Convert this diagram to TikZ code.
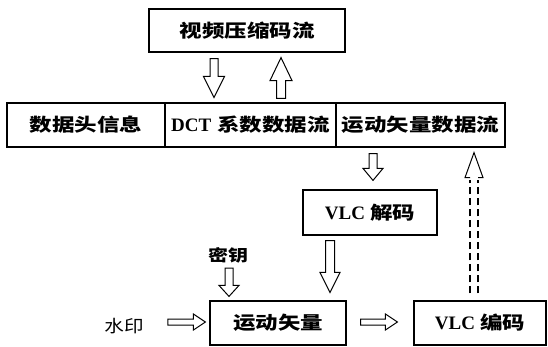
\documentclass[tikz,border=0pt]{standalone}
\usepackage{fontspec}
\setmainfont{Liberation Serif}
\newfontfamily\cjk{Noto Sans CJK SC}[FakeStretch=1.25]
\newfontfamily\cjkn{Noto Sans CJK SC}[FakeStretch=1.15]
\usetikzlibrary{calc}
\newcommand\lat[1]{{\rmfamily\bfseries\fontsize{19pt}{20pt}\selectfont #1}}
\tikzset{
  box/.style={draw, line width=1.2pt, fill=white, inner sep=0pt,
    font=\fontsize{18pt}{20pt}\selectfont\cjk\bfseries},
  lbl/.style={inner sep=0pt},
  hollow/.style n args={3}{line width=1pt, fill=white, to path={
     ($(\tikztostart)!#1!90:(\tikztotarget)$)
     -- ($($(\tikztotarget)!#3!(\tikztostart)$)!#1!90:(\tikztotarget)$)
     -- ($($(\tikztotarget)!#3!(\tikztostart)$)!#2!90:(\tikztotarget)$)
     -- (\tikztotarget)
     -- ($($(\tikztotarget)!#3!(\tikztostart)$)!#2!-90:(\tikztotarget)$)
     -- ($($(\tikztotarget)!#3!(\tikztostart)$)!#1!-90:(\tikztotarget)$)
     -- ($(\tikztostart)!#1!-90:(\tikztotarget)$)
     -- cycle}},
  openhead/.style n args={3}{line width=1pt, to path={
     ($($(\tikztotarget)!#3!(\tikztostart)$)!#1!90:(\tikztotarget)$)
     -- ($($(\tikztotarget)!#3!(\tikztostart)$)!#2!90:(\tikztotarget)$)
     -- (\tikztotarget)
     -- ($($(\tikztotarget)!#3!(\tikztostart)$)!#2!-90:(\tikztotarget)$)
     -- ($($(\tikztotarget)!#3!(\tikztostart)$)!#1!-90:(\tikztotarget)$)}},
  dashline/.style={line width=1.6pt, dash pattern=on 7pt off 4pt},
}
\begin{document}
\begin{tikzpicture}[x=1pt,y=-1pt]
\useasboundingbox (0,0) rectangle (548,347);
% boxes
\node[box, minimum width=196pt, minimum height=43pt] (top) at (247,30.5) {视频压缩码流};
\node[box, minimum width=158pt, minimum height=44pt] (b1) at (86,125) {数据头信息};
\node[box, minimum width=171pt, minimum height=44pt] (b2) at (250.5,125) {\lat{DCT}\hspace{6pt}系数数据流};
\node[box, minimum width=169pt, minimum height=44pt] (b3) at (420.5,125) {运动矢量数据流};
\node[box, minimum width=134pt, minimum height=45pt] (dec) at (370,212.5) {\lat{VLC}\hspace{5pt}解码};
\node[box, minimum width=136pt, minimum height=44pt] (mv) at (278,323) {运动矢量};
\node[box, minimum width=132pt, minimum height=44pt] (enc) at (480,323) {\lat{VLC}\hspace{5pt}编码};
% labels
\node[lbl, font=\fontsize{17pt}{19pt}\selectfont\cjkn] (wm) at (124,326) {水印};
\node[lbl, font=\fontsize{16pt}{18pt}\selectfont\cjk\bfseries] (key) at (228,255) {密钥};
% hollow arrows
\draw[hollow={4pt}{10.5pt}{21pt}] ([shift={(-33,6)}]top.south) to ([shift={(-36.5,-5)}]b2.north);
\draw[hollow={4.5pt}{11pt}{23pt}] ([shift={(30.5,-4)}]b2.north) to ([shift={(34,5)}]top.south);
\draw[hollow={4pt}{10pt}{12pt}] ([shift={(-47.5,6)}]b3.south) to ([shift={(3,-9)}]dec.north);
\draw[hollow={4.5pt}{10pt}{20pt}] ([shift={(-40,5)}]dec.south) to ([shift={(52,-8)}]mv.north);
\draw[hollow={4pt}{10pt}{11pt}] ([shift={(1,5)}]key.south) to ([shift={(-49,-4)}]mv.north);
\draw[hollow={3pt}{8pt}{12pt}] ([shift={(24,-4)}]wm.east) to ([shift={(-4,-1)}]mv.west);
\draw[hollow={3pt}{8pt}{12pt}] ([shift={(14,-1)}]mv.east) to ([shift={(-16,-1)}]enc.west);
% dashed return arrow
\coordinate (ds) at ([shift={(-6,-7)}]enc.north);
\coordinate (de) at ([shift={(53.5,5)}]b3.south);
\draw[openhead={4pt}{9pt}{25pt}] (ds) to (de);
\draw[dashline] ([xshift=-4]ds) -- ([shift={(-4,27)}]de);
\draw[dashline] ([xshift=4]ds) -- ([shift={(4,27)}]de);
\end{tikzpicture}
\end{document}
